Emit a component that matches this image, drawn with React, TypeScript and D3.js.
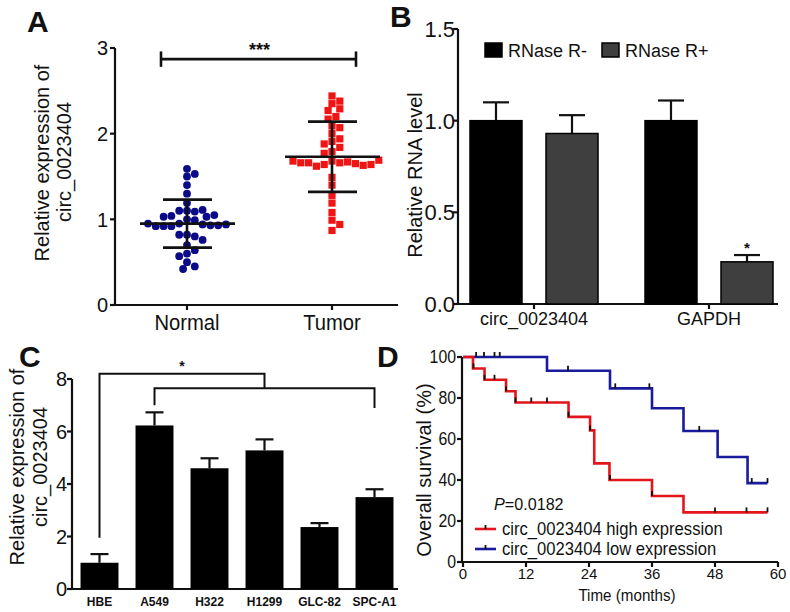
import React from 'react';
import * as d3 from 'd3';

const FONT = "'Liberation Sans', Arial, Helvetica, sans-serif";

// ---------- Panel A data ----------
const groupsA = ['Normal', 'Tumor'];
const normalValues = [1.59, 1.53, 1.5, 1.4, 1.3, 1.19, 1.1, 1.09, 1.1, 1.11, 1.04, 1.03, 1.03, 1.05, 1.0, 0.99, 0.95, 0.94, 0.92, 0.93, 0.92, 0.93, 0.92, 0.94, 0.95, 0.82, 0.8, 0.82, 0.76, 0.7, 0.64, 0.6, 0.57, 0.5, 0.45, 0.42];
const tumorValues = [2.44, 2.38, 2.35, 2.29, 2.27, 2.2, 2.17, 2.09, 2.07, 2.0, 1.94, 1.91, 1.88, 1.84, 1.79, 1.77, 1.68, 1.66, 1.64, 1.67, 1.62, 1.65, 1.66, 1.63, 1.66, 1.64, 1.68, 1.69, 1.49, 1.4, 1.28, 1.19, 1.08, 0.99, 0.94, 0.87];
const meanA = [0.95, 1.73];
const sdA = [0.28, 0.41];
const ticksA = [0, 1, 2, 3];

// ---------- Panel B data ----------
const groupsB = ['circ_0023404', 'GAPDH'];
const seriesB = ['RNase R-', 'RNase R+'];
const valuesB = [[1.0, 0.93], [1.0, 0.23]];
const errorsB = [[0.1, 0.1], [0.11, 0.037]];
const ticksB = [0, 0.5, 1.0, 1.5];

// ---------- Panel C data ----------
const cellLines = ['HBE', 'A549', 'H322', 'H1299', 'GLC-82', 'SPC-A1'];
const valuesC = [1.0, 6.23, 4.6, 5.28, 2.36, 3.5];
const errorsC = [0.33, 0.5, 0.38, 0.42, 0.15, 0.3];
const ticksC = [0, 2, 4, 6, 8];

// ---------- Panel D data ----------
const highTimes = [0, 1.9, 4.1, 8.2, 10, 20.1, 24.2, 25, 27.9, 36, 42, 58];
const highSurv = [100, 94.4, 88.9, 83.3, 77.8, 70.8, 64.2, 48.1, 40, 32.2, 24.2, 24.2];
const highCensor = [2, 4.1, 6, 8.2, 10, 13, 16, 20.1, 24.2, 28, 36, 48, 54, 58];
const lowTimes = [0, 16, 28, 36, 42, 48.5, 54.2, 58];
const lowSurv = [100, 93.3, 84.7, 75, 63.9, 51.2, 38.5, 38.5];
const lowCensor = [2.5, 4, 6, 7, 20, 29, 35.5, 45, 55, 58];
const ticksDx = [0, 12, 24, 36, 48, 60];
const ticksDy = [0, 20, 40, 60, 80, 100];
const pValue = '=0.0182';
const legendD = ['circ_0023404 high expression', 'circ_0023404 low expression'];

const RED = '#e3151b';
const BLUE = '#1a1a9c';
const NAVY = '#0b0b8a';

function swarm(vals: number[], y: (v: number) => number, cx: number, d: number) {
  const placed: { x: number; y: number }[] = [];
  return vals.map((v) => {
    const yy = y(v);
    for (let k = 0; k < 400; k++) {
      const off = (k % 2 === 1 ? 1 : -1) * Math.ceil(k / 2) * d * 0.5;
      const xx = cx + off;
      if (placed.every((p) => (p.x - xx) ** 2 + (p.y - yy) ** 2 >= d * d * 0.95)) {
        placed.push({ x: xx, y: yy });
        return { x: xx, y: yy };
      }
    }
    return { x: cx, y: yy };
  });
}

function T(props: any) {
  const { x, y, sx = 1, children, rotate, ...rest } = props;
  const tr = `translate(${x},${y})${rotate ? ` rotate(${rotate})` : ''} scale(${sx},1)`;
  return (
    <text transform={tr} fontFamily={FONT} fill="#111" {...rest}>
      {children}
    </text>
  );
}

function PanelA() {
  const y = d3.scaleLinear().domain([0, 3]).range([305, 48]);
  const x = d3.scalePoint<string>().domain(groupsA).range([187, 332]);
  const nPts = swarm(normalValues, y, x('Normal')!, 7.8);
  const tPts = swarm(tumorValues, y, x('Tumor')!, 7.8);
  const sw = 2.2;
  return (
    <g>
      <T x={27} y={32} fontSize={30} fontWeight="bold">A</T>
      <T x={49} y={163} rotate={-90} fontSize={20} textAnchor="middle">Relative expression of</T>
      <T x={71} y={162} rotate={-90} fontSize={20} textAnchor="middle">circ_0023404</T>
      <line x1={115} x2={115} y1={y(3)} y2={y(0)} stroke="#111" strokeWidth={sw} />
      <line x1={114} x2={398} y1={y(0)} y2={y(0)} stroke="#111" strokeWidth={sw} />
      {ticksA.map((t) => (
        <g key={t}>
          <line x1={110} x2={115} y1={y(t)} y2={y(t)} stroke="#111" strokeWidth={sw} />
          <T x={108} y={y(t)} dy="0.36em" fontSize={20} textAnchor="end">{t}</T>
        </g>
      ))}
      {groupsA.map((g) => (
        <g key={g}>
          <line x1={x(g)!} x2={x(g)!} y1={y(0)} y2={y(0) + 5} stroke="#111" strokeWidth={sw} />
          <T x={x(g)!} y={y(0) + 25} sx={0.92} fontSize={22} textAnchor="middle">{g}</T>
        </g>
      ))}
      {nPts.map((p, i) => (
        <circle key={'n' + i} cx={p.x} cy={p.y} r={3.9} fill={NAVY} />
      ))}
      {tPts.map((p, i) => (
        <rect key={'t' + i} x={p.x - 3.6} y={p.y - 3.6} width={7.2} height={7.2} fill="#f01515" />
      ))}
      {groupsA.map((g, i) => {
        const cx = x(g)!;
        return (
          <g key={'e' + g} stroke="#111" strokeWidth={2.6}>
            <line x1={cx - 47} x2={cx + 48} y1={y(meanA[i])} y2={y(meanA[i])} />
            <line x1={cx} x2={cx} y1={y(meanA[i] + sdA[i])} y2={y(meanA[i] - sdA[i])} />
            <line x1={cx - 24} x2={cx + 25} y1={y(meanA[i] + sdA[i])} y2={y(meanA[i] + sdA[i])} />
            <line x1={cx - 24} x2={cx + 25} y1={y(meanA[i] - sdA[i])} y2={y(meanA[i] - sdA[i])} />
          </g>
        );
      })}
      <g stroke="#111" strokeWidth={2.6}>
        <line x1={x('Normal')! - 26} x2={x('Tumor')! + 24} y1={y(2.87)} y2={y(2.87)} />
        <line x1={x('Normal')! - 26} x2={x('Normal')! - 26} y1={y(2.96)} y2={y(2.78)} />
        <line x1={x('Tumor')! + 24} x2={x('Tumor')! + 24} y1={y(2.96)} y2={y(2.78)} />
      </g>
      <T x={(x('Normal')! + x('Tumor')!) / 2} y={y(2.87) - 3} fontSize={18} fontWeight="bold" textAnchor="middle">***</T>
    </g>
  );
}

function PanelB() {
  const y = d3.scaleLinear().domain([0, 1.5]).range([304, 29]);
  const x = d3.scalePoint<string>().domain(groupsB).range([534, 709]);
  const inner = d3.scaleBand<string>().domain(seriesB).range([-64, 64]).paddingInner(0.316);
  const fills = ['#000', '#3f3f3f'];
  const sw = 2.2;
  return (
    <g>
      <T x={390} y={27} fontSize={30} fontWeight="bold">B</T>
      <T x={422} y={175} rotate={-90} fontSize={20} textAnchor="middle">Relative RNA level</T>
      <line x1={458} x2={458} y1={y(1.5)} y2={y(0)} stroke="#111" strokeWidth={sw} />
      <line x1={457} x2={778} y1={y(0)} y2={y(0)} stroke="#111" strokeWidth={sw} />
      {ticksB.map((t) => (
        <g key={t}>
          <line x1={453} x2={458} y1={y(t)} y2={y(t)} stroke="#111" strokeWidth={sw} />
          <T x={455} y={y(t)} dy="0.36em" fontSize={22} textAnchor="end">{t.toFixed(1)}</T>
        </g>
      ))}
      {groupsB.map((g, gi) => (
        <g key={g}>
          {seriesB.map((s, si) => {
            const bx = x(g)! + inner(s)!;
            const bw = inner.bandwidth();
            const v = valuesB[gi][si];
            const e = errorsB[gi][si];
            const cx = bx + bw / 2;
            return (
              <g key={s}>
                <line x1={cx} x2={cx} y1={y(v)} y2={y(v + e)} stroke="#111" strokeWidth={2.2} />
                <line x1={cx - 13} x2={cx + 13} y1={y(v + e)} y2={y(v + e)} stroke="#111" strokeWidth={2.2} />
                <rect x={bx} y={y(v)} width={bw} height={y(0) - y(v)} fill={fills[si]} stroke="#000" strokeWidth={1.5} />
              </g>
            );
          })}
          <line x1={x(g)!} x2={x(g)!} y1={y(0)} y2={y(0) + 5} stroke="#111" strokeWidth={sw} />
          <T x={x(g)!} y={y(0) + 21} fontSize={18} textAnchor="middle">{g}</T>
        </g>
      ))}
      <T x={x('GAPDH')! + inner('RNase R+')! + inner.bandwidth() / 2} y={y(valuesB[1][1] + errorsB[1][1]) - 2} fontSize={15} fontWeight="bold" textAnchor="middle">*</T>
      {seriesB.map((s, si) => (
        <g key={'lg' + s}>
          <rect x={485 + si * 117} y={43} width={17} height={14} fill={fills[si]} stroke="#000" strokeWidth={1.5} />
          <T x={508 + si * 117} y={57} fontSize={18}>{s}</T>
        </g>
      ))}
    </g>
  );
}

function PanelC() {
  const y = d3.scaleLinear().domain([0, 8]).range([589, 379]);
  const x = d3.scaleBand<string>().domain(cellLines).range([72, 402]).paddingInner(0.31).paddingOuter(0.155);
  const sw = 2.2;
  const cx = (c: string) => x(c)! + x.bandwidth() / 2;
  const mid = (cx('A549') + cx('SPC-A1')) / 2;
  return (
    <g>
      <T x={19} y={367} fontSize={30} fontWeight="bold">C</T>
      <T x={24} y={467} rotate={-90} fontSize={20} textAnchor="middle">Relative expression of</T>
      <T x={47} y={467} rotate={-90} fontSize={20} textAnchor="middle">circ_0023404</T>
      <line x1={72} x2={72} y1={y(8)} y2={y(0)} stroke="#111" strokeWidth={sw} />
      <line x1={71} x2={398} y1={y(0)} y2={y(0)} stroke="#111" strokeWidth={sw} />
      {ticksC.map((t) => (
        <g key={t}>
          <line x1={67} x2={72} y1={y(t)} y2={y(t)} stroke="#111" strokeWidth={sw} />
          <T x={67} y={y(t)} dy="0.36em" fontSize={20} textAnchor="end">{t}</T>
        </g>
      ))}
      {cellLines.map((c, i) => (
        <g key={c}>
          <line x1={cx(c)} x2={cx(c)} y1={y(valuesC[i])} y2={y(valuesC[i] + errorsC[i])} stroke="#111" strokeWidth={2.2} />
          <line x1={cx(c) - 9} x2={cx(c) + 9} y1={y(valuesC[i] + errorsC[i])} y2={y(valuesC[i] + errorsC[i])} stroke="#111" strokeWidth={2.2} />
          <rect x={x(c)!} y={y(valuesC[i])} width={x.bandwidth()} height={y(0) - y(valuesC[i])} fill="#000" />
          <T x={cx(c)} y={606} fontSize={12} fontWeight="bold" textAnchor="middle">{c}</T>
        </g>
      ))}
      <g stroke="#111" strokeWidth={2} fill="none">
        <polyline points={`${cx('HBE')},${y(1.95)} ${cx('HBE')},${y(8.2)} ${mid},${y(8.2)} ${mid},${y(7.65)}`} />
        <polyline points={`${cx('A549')},${y(7.0)} ${cx('A549')},${y(7.65)} ${cx('SPC-A1')},${y(7.65)} ${cx('SPC-A1')},${y(6.9)}`} />
      </g>
      <T x={182} y={y(8.2) - 3} fontSize={14} fontWeight="bold" textAnchor="middle">*</T>
    </g>
  );
}

function PanelD() {
  const y = d3.scaleLinear().domain([0, 100]).range([562, 357]);
  const x = d3.scaleLinear().domain([0, 60]).range([463, 778]);
  const line = d3.line<[number, number]>().x((d) => x(d[0])).y((d) => y(d[1])).curve(d3.curveStepAfter);
  const hi = highTimes.map((t, i) => [t, highSurv[i]] as [number, number]);
  const lo = lowTimes.map((t, i) => [t, lowSurv[i]] as [number, number]);
  const survAt = (times: number[], surv: number[], t: number) => {
    let s = surv[0];
    times.forEach((tt, i) => {
      if (tt <= t) s = surv[i];
    });
    return s;
  };
  const sw = 2.2;
  return (
    <g>
      <T x={377} y={367} fontSize={30} fontWeight="bold">D</T>
      <T x={431} y={470} rotate={-90} fontSize={20} textAnchor="middle">Overall survival (%)</T>
      <line x1={462} x2={462} y1={y(100)} y2={y(0)} stroke="#111" strokeWidth={sw} />
      <line x1={461} x2={778} y1={y(0)} y2={y(0)} stroke="#111" strokeWidth={sw} />
      {ticksDy.map((t) => (
        <g key={t}>
          <line x1={457} x2={462} y1={y(t)} y2={y(t)} stroke="#111" strokeWidth={sw} />
          <T x={456} y={y(t)} dy="0.36em" sx={0.88} fontSize={18} textAnchor="end">{t}</T>
        </g>
      ))}
      {ticksDx.map((t) => (
        <g key={t}>
          <line x1={x(t)} x2={x(t)} y1={y(0)} y2={y(0) + 5} stroke="#111" strokeWidth={sw} />
          <T x={x(t)} y={579} fontSize={15} textAnchor="middle">{t}</T>
        </g>
      ))}
      <T x={627} y={601} sx={0.92} fontSize={16.5} textAnchor="middle">Time (months)</T>
      <path d={line(lo)!} fill="none" stroke={BLUE} strokeWidth={2.6} />
      <path d={line(hi)!} fill="none" stroke={RED} strokeWidth={2.6} />
      {lowCensor.map((t, i) => {
        const s = survAt(lowTimes, lowSurv, t);
        return <line key={'lc' + i} x1={x(t)} x2={x(t)} y1={y(s)} y2={y(s) - 5} stroke="#111" strokeWidth={1.8} />;
      })}
      {highCensor.map((t, i) => {
        const s = survAt(highTimes, highSurv, t);
        return <line key={'hc' + i} x1={x(t)} x2={x(t)} y1={y(s)} y2={y(s) - 5} stroke="#111" strokeWidth={1.8} />;
      })}
      <T x={494} y={510} sx={0.95} fontSize={17}>
        <tspan fontStyle="italic">P</tspan>
        {pValue}
      </T>
      {legendD.map((l, i) => (
        <g key={l}>
          <line x1={475} x2={496} y1={529 + i * 20} y2={529 + i * 20} stroke={i === 0 ? RED : BLUE} strokeWidth={2.6} />
          <line x1={485.5} x2={485.5} y1={529 + i * 20 - 4} y2={529 + i * 20} stroke="#111" strokeWidth={1.8} />
          <T x={502} y={535 + i * 20} sx={0.95} fontSize={17.5}>{l}</T>
        </g>
      ))}
    </g>
  );
}

export default function App() {
  return (
    <svg width={790} height={612} viewBox="0 0 790 612" style={{ position: 'absolute', left: 0, top: 0, background: '#fff' }}>
      <rect x={0} y={0} width={790} height={612} fill="#fff" />
      <PanelA />
      <PanelB />
      <PanelC />
      <PanelD />
    </svg>
  );
}
